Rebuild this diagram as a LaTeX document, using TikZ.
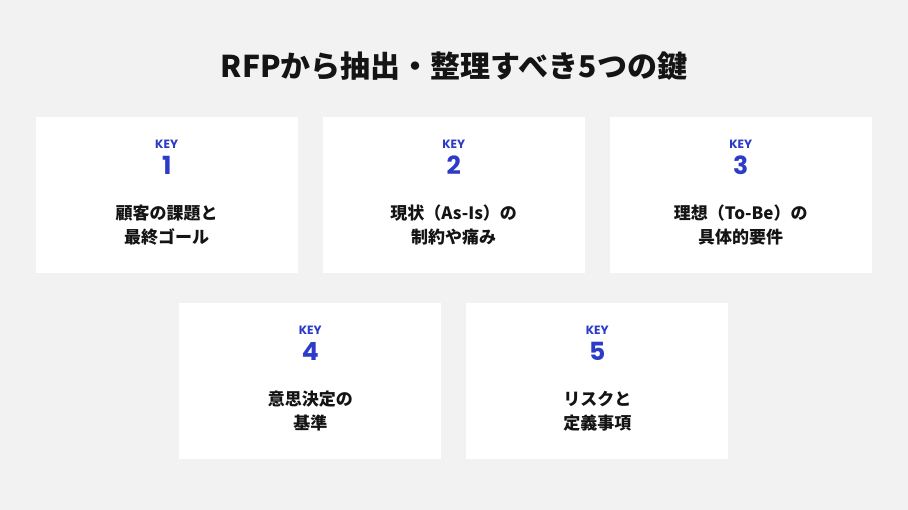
\documentclass[tikz,border=0pt]{standalone}
\usepackage{fontspec}
\setmainfont{Noto Sans CJK JP}
\newfontfamily\keyfont{Poppins}
\usepackage{xcolor}
\definecolor{ColBg}{RGB}{242,242,242}
\definecolor{ColKey}{RGB}{44,60,200}
\definecolor{ColTxt}{RGB}{20,20,20}
\usepackage{tikz}
\usetikzlibrary{positioning}
\tikzstyle{Card}=[rectangle,fill=white,minimum width=262pt,
minimum height=155.5pt,inner sep=0pt]
\tikzstyle{KeyST}=[text=ColKey,font=\keyfont\bfseries\fontsize{12}{14}\selectfont,
inner sep=0pt]
\tikzstyle{NumST}=[text=ColKey,font=\keyfont\bfseries\fontsize{25}{28}\selectfont,
inner sep=0pt]
\tikzstyle{TextST}=[text=ColTxt,align=center,inner sep=0pt,
font=\bfseries\fontsize{17}{24}\selectfont]
\tikzstyle{TitleST}=[text=ColTxt,inner sep=0pt,
font=\bfseries\fontsize{30}{34}\selectfont]

\begin{document}
\begin{tikzpicture}[x=1pt,y=-1pt]
            \fill[ColBg](0,0)rectangle(908,510);
            \useasboundingbox(0,0)rectangle(908,510);
            \node[TitleST](title)at(454,66){RFPから抽出・整理すべき5つの鍵};
            % first row
            \node[Card](c1)at(166.7,195){};
            \node[Card](c2)at(453.7,195){};
            \node[Card](c3)at(740.7,195){};
            % second row
            \node[Card](c4)at(310.3,381.2){};
            \node[Card](c5)at(597.3,381.2){};
            \node[KeyST](k1)at(166.7,144.5){KEY};
            \node[NumST](n1)at(166.7,165.5){1};
            \node[TextST](t1)at(166.7,225){顧客の課題と\\最終ゴール};
            \node[KeyST](k2)at(453.7,144.5){KEY};
            \node[NumST](n2)at(453.7,165.5){2};
            \node[TextST](t2)at(453.7,225){現状（As-Is）の\\制約や痛み};
            \node[KeyST](k3)at(740.7,144.5){KEY};
            \node[NumST](n3)at(740.7,165.5){3};
            \node[TextST](t3)at(740.7,225){理想（To-Be）の\\具体的要件};
            \node[KeyST](k4)at(310.3,330.7){KEY};
            \node[NumST](n4)at(310.3,351.7){4};
            \node[TextST](t4)at(310.3,411.2){意思決定の\\基準};
            \node[KeyST](k5)at(597.3,330.7){KEY};
            \node[NumST](n5)at(597.3,351.7){5};
            \node[TextST](t5)at(597.3,411.2){リスクと\\定義事項};
        \end{tikzpicture}
\end{document}
